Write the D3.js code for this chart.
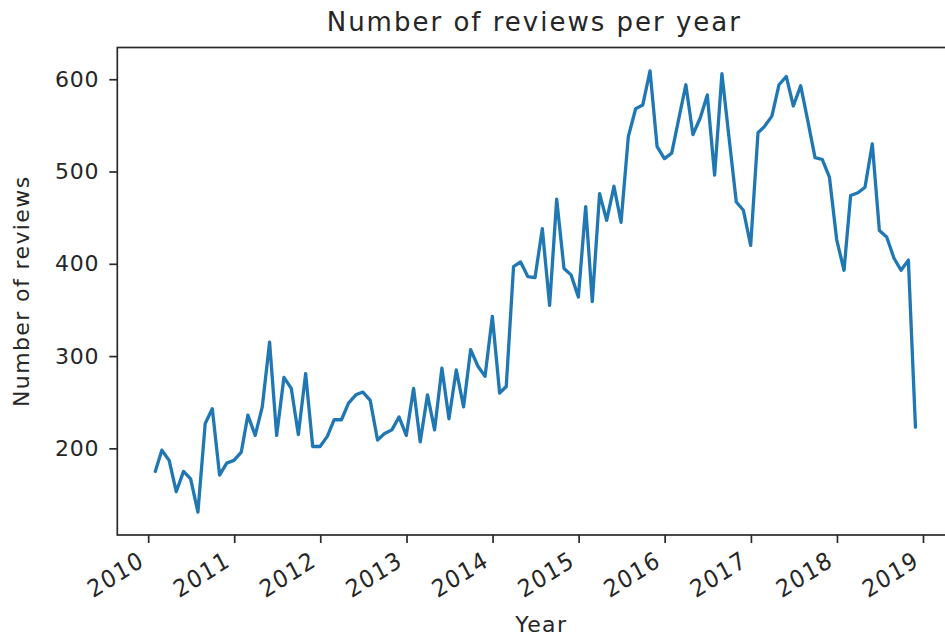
<!DOCTYPE html>
<html><head><meta charset="utf-8">
<script src="https://cdn.jsdelivr.net/npm/d3@7"></script>
<style>
body{margin:0;background:#fff}
svg text{font-family:"DejaVu Sans",sans-serif;fill:#262626}
</style>
</head><body>
<svg id="chart" width="945" height="640"></svg>
<script>
// Monthly review counts, Jan 2010 .. Nov 2018 (month-end stamps)
const reviews2010 = [175, 198, 187, 153, 175, 167, 131, 227, 243, 171, 184, 187];
const reviews2011 = [196, 236, 214, 245, 315, 214, 277, 265, 215, 281, 202, 202];
const reviews2012 = [213, 231, 231, 249, 258, 261, 252, 209, 216, 220, 234, 214];
const reviews2013 = [265, 207, 258, 220, 287, 232, 285, 245, 307, 289, 278, 343];
const reviews2014 = [260, 267, 397, 402, 386, 385, 438, 355, 470, 395, 388, 364];
const reviews2015 = [462, 359, 476, 447, 484, 445, 538, 568, 572, 609, 527, 514];
const reviews2016 = [520, 556, 594, 540, 558, 583, 496, 606, 537, 467, 458, 420];
const reviews2017 = [542, 549, 560, 594, 603, 571, 593, 554, 515, 513, 494, 426];
const reviews2018 = [393, 474, 477, 483, 530, 436, 429, 406, 393, 404, 223];
const years = [2010, 2011, 2012, 2013, 2014, 2015, 2016, 2017, 2018];
const yTicks = [200, 300, 400, 500, 600];
const xTickYears = [2010, 2011, 2012, 2013, 2014, 2015, 2016, 2017, 2018, 2019];
const titleText = "Number of reviews per year";
const xLabel = "Year";
const yLabel = "Number of reviews";

const perYear = [reviews2010, reviews2011, reviews2012, reviews2013, reviews2014,
                 reviews2015, reviews2016, reviews2017, reviews2018];
const data = [];
perYear.forEach((vals, yi) => {
  vals.forEach((v, m) => {
    data.push({date: new Date(years[yi], m + 1, 0), value: v});
  });
});

const svg = d3.select("#chart");
const L = 117.3, R = 953.4, T = 47.5, B = 535;

const x = d3.scaleTime()
  .domain([new Date(2009, 7, 23), new Date(2019, 4, 10)])
  .range([L, R]);
const y = d3.scaleLinear()
  .domain([106.1, 634.4])
  .range([B, T]);

// line
const line = d3.line().x(d => x(d.date)).y(d => y(d.value));
svg.append("path").datum(data)
  .attr("d", line)
  .attr("fill", "none")
  .attr("stroke", "#1f77b4")
  .attr("stroke-width", 3.3)
  .attr("stroke-linejoin", "round")
  .attr("stroke-linecap", "round");

// frame
svg.append("rect")
  .attr("x", L).attr("y", T).attr("width", R - L).attr("height", B - T)
  .attr("fill", "none").attr("stroke", "#2a2a2a").attr("stroke-width", 1.7);

// y axis
const yAxis = d3.axisLeft(y).tickValues(yTicks).tickSize(8).tickPadding(10).tickFormat(d3.format("d"));
const gy = svg.append("g").attr("transform", `translate(${L},0)`).call(yAxis);
gy.select(".domain").remove();
gy.selectAll(".tick line").attr("stroke", "#2a2a2a").attr("stroke-width", 1.7);
gy.selectAll(".tick text")
  .attr("font-size", 22).attr("letter-spacing", 0.8)
  .attr("font-family", "DejaVu Sans").attr("fill", "#222");

// x axis
const xAxis = d3.axisBottom(x)
  .tickValues(xTickYears.map(yr => new Date(yr, 0, 1)))
  .tickSize(8).tickFormat(d3.timeFormat("%Y"));
const gx = svg.append("g").attr("transform", `translate(0,${B})`).call(xAxis);
gx.select(".domain").remove();
gx.selectAll(".tick line").attr("stroke", "#2a2a2a").attr("stroke-width", 1.7);
gx.selectAll(".tick text")
  .attr("font-size", 22).attr("letter-spacing", 1.2)
  .attr("font-family", "DejaVu Sans").attr("fill", "#222")
  .attr("text-anchor", "end")
  .attr("y", 0).attr("dy", null)
  .attr("transform", "translate(-3,30) scale(1,1.1) rotate(-30)");

// title
svg.append("text")
  .attr("x", (L + R) / 2 - 1).attr("y", 31)
  .attr("text-anchor", "middle")
  .attr("font-size", 26).attr("letter-spacing", 2)
  .attr("fill", "#222")
  .text(titleText);

// axis labels
svg.append("text")
  .attr("x", (L + R) / 2 + 6).attr("y", 632)
  .attr("text-anchor", "middle")
  .attr("font-size", 22).attr("letter-spacing", 1.4)
  .attr("fill", "#222")
  .text(xLabel);

svg.append("text")
  .attr("transform", `translate(29,${(T + B) / 2}) rotate(-90)`)
  .attr("text-anchor", "middle")
  .attr("font-size", 22).attr("letter-spacing", 1.4)
  .attr("fill", "#222")
  .text(yLabel);
</script>
</body></html>
